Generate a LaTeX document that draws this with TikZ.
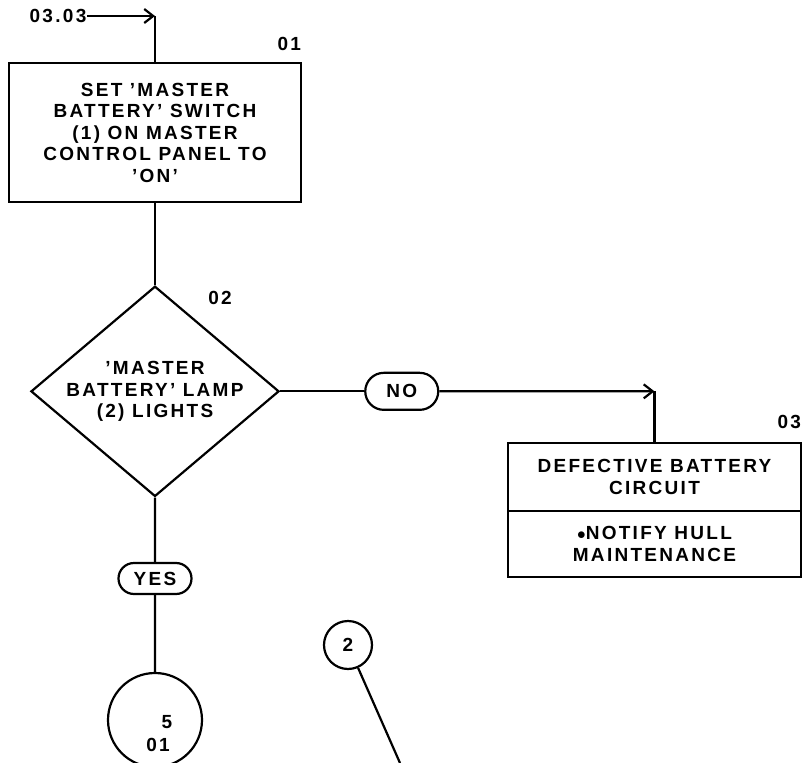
\documentclass[tikz,border=0pt]{standalone}
\usepackage{fontspec}
\setmainfont{Liberation Sans}[LetterSpace=12]
\usetikzlibrary{shapes.geometric,shapes.misc,arrows.meta,positioning}
\tikzstyle{txt}=[font=\fontsize{19}{21.5}\selectfont\bfseries,align=center,inner sep=0pt]
\tikzstyle{proc}=[rectangle,draw,txt,minimum width=292pt,minimum height=139pt]
\tikzstyle{dec}=[diamond,draw,txt,aspect=1.18,minimum width=245pt,minimum height=207pt]
\tikzstyle{res}=[rectangle,draw,txt,minimum width=293pt]
\tikzstyle{pill}=[rounded rectangle,draw,txt,minimum width=73pt]
\tikzstyle{conn}=[circle,draw,txt]
\tikzstyle{arr}=[-{Straight Barb[length=9pt,width=14pt]}]

\begin{document}
\begin{tikzpicture}[x=1pt,y=-1pt,line width=2.2pt]
\useasboundingbox (0,0) rectangle (807,763);
% entry from 03.03
\node (ref0303) [txt] at (58,16) {03.03};
\coordinate (in01) at (155,16);
\node (box01) [proc] at (155,132.5) {SET 'MASTER\\BATTERY' SWITCH\\(1) ON MASTER\\CONTROL PANEL TO\\'ON'};
\node (n01) [txt, above left=10pt and 0pt of box01.north east] {01};
\node (dec02) [dec, below=82pt of box01] {'MASTER\\BATTERY' LAMP\\(2) LIGHTS};
\node (n02) [txt] at (220,298) {02};
% no branch
\node (no) [pill, minimum height=37pt, right=84pt of dec02] {NO};
\node (box03a) [res, minimum height=68pt] at (654.5,477) {DEFECTIVE BATTERY\\CIRCUIT};
\node (box03b) [res, minimum height=66pt, below=-2.2pt of box03a] {$\bullet$NOTIFY HULL\\MAINTENANCE};
\coordinate (in03) at (box03a.north |- no);
\node (n03) [txt, above left=12pt and 0pt of box03a.north east] {03};
% yes branch
\node (yes) [pill, minimum height=31pt] at (155,578.5) {YES};
\node (c5) [conn, minimum size=94pt] at (155,720) {};
\node (c5a) [txt] at (167,722) {5};
\node (c5b) [txt] at (158,745) {01};
% callout 2
\node (c2) [conn, minimum size=48pt] at (348,645) {2};
\coordinate (c2end) at (400,763);

\draw [arr] (ref0303) -- (in01);
\draw (in01) -- (box01);
\draw (box01) -- (dec02);
\draw (dec02) -- (no);
\draw [arr] (no) -- (in03);
\draw (in03) -- (box03a);
\draw (dec02) -- (yes);
\draw (yes) -- (c5);
\draw (c2) -- (c2end);
\end{tikzpicture}
\end{document}
